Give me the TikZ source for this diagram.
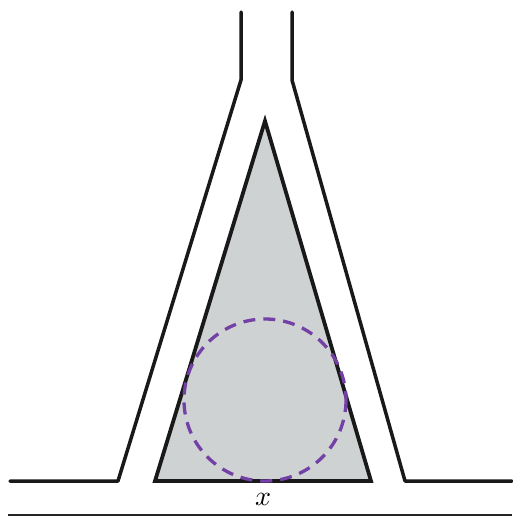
\documentclass[tikz,border=0pt]{standalone}
\begin{document}
\begin{tikzpicture}[x=1pt,y=-1pt,
  wall/.style={line width=3.5pt,line join=round,line cap=round,draw=black!90},
  cone/.style={line width=3.8pt,line join=miter,fill={rgb,255:red,207;green,210;blue,210},draw=black!90},
  incircle/.style={line width=3.3pt,dash pattern=on 12pt off 8pt,draw={rgb,255:red,115;green,65;blue,165}}]
\useasboundingbox (0,0) rectangle (512,517);
\coordinate (l0) at (10,481);
\coordinate (l1) at (118,481);
\coordinate (l2) at (241,80);
\coordinate (l3) at (241,12);
\coordinate (r3) at (292,12);
\coordinate (r2) at (292,80);
\coordinate (r1) at (405,481);
\coordinate (r0) at (512,481);
\draw[wall] (l0) -- (l1) -- (l2) -- (l3);
\draw[wall] (r3) -- (r2) -- (r1) -- (r0);
\coordinate (apex) at (265,121);
\coordinate (bl) at (155,481);
\coordinate (br) at (371,481);
\draw[cone] (apex) -- (bl) -- (br) -- cycle;
\coordinate (c) at (265,400);
\draw[incircle] (c) circle (81);
\coordinate (g0) at (8,515);
\coordinate (g1) at (512,515);
\draw[line width=2.6pt,draw=black!85] (g0) -- (g1);
\node[scale=2.8] (xl) at (263,499) {$x$};
\end{tikzpicture}
\end{document}
